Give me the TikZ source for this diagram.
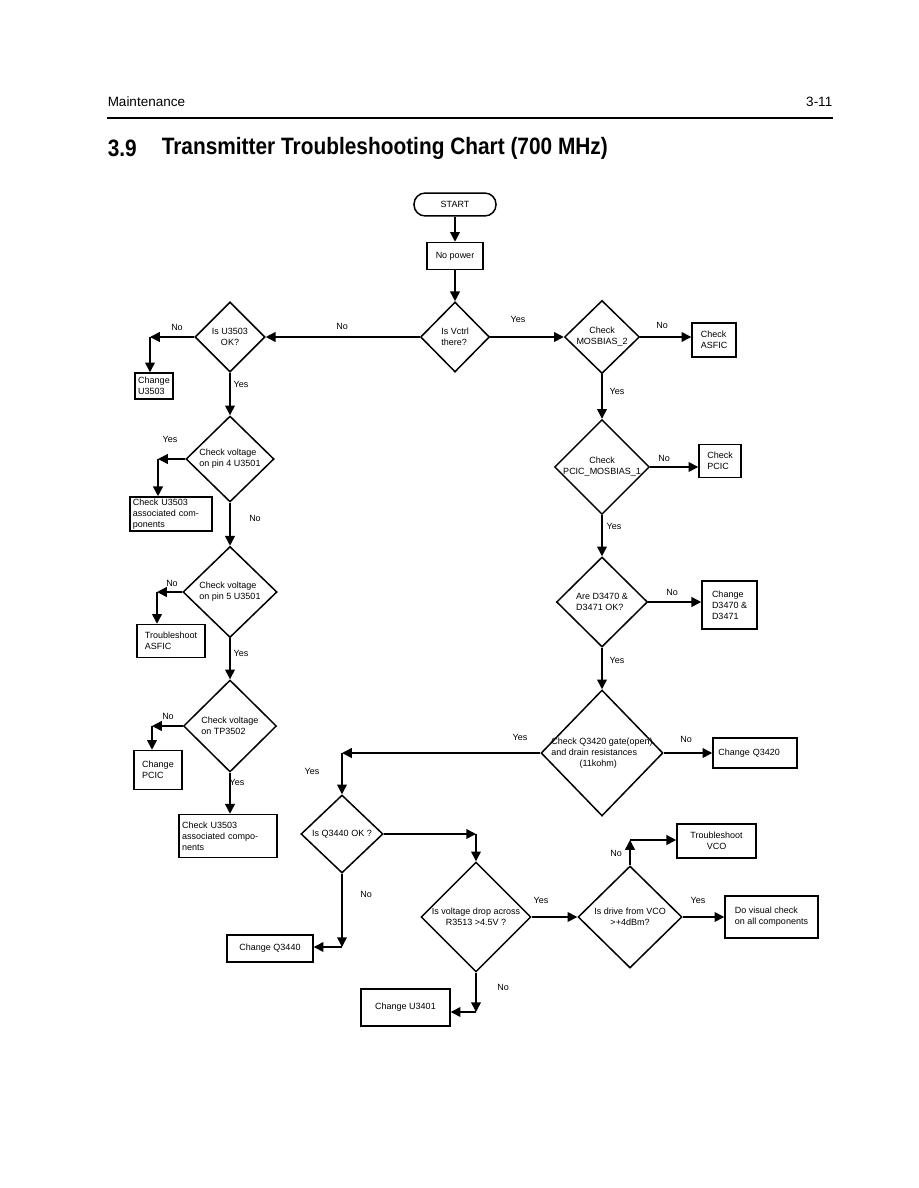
\documentclass[tikz,border=0pt]{standalone}
\usepackage{fontspec}
\setmainfont{Liberation Sans}
\newfontfamily\titlefont[FakeStretch=0.88]{Liberation Sans}
\usetikzlibrary{shapes.geometric, arrows.meta}

\tikzset{
  chart/.style={font=\fontsize{6}{7.4}\selectfont},
  box/.style={chart, draw, rectangle, align=left, inner sep=0pt},
  decision/.style={draw, diamond, inner sep=0pt},
  dtext/.style={chart, align=left, inner sep=0pt},
  answer/.style={chart, inner sep=0pt},
}

\begin{document}
\begin{tikzpicture}[x=0.6667pt, y=-0.6667pt, line width=1pt, >={Triangle[length=6.5pt,width=6.5pt]}]
    \useasboundingbox (0,0) rectangle (918,1188);

    % 1. Page header and title
    \node[anchor=west, inner sep=0pt, font=\fontsize{9}{11}\selectfont] (hdleft) at (107,102) {Maintenance};
    \node[anchor=east, inner sep=0pt, font=\fontsize{9}{11}\selectfont] (hdright) at (833,102) {3-11};
    \draw[line width=1.4pt] (107,118) -- (833,118);
    \node[anchor=west, inner sep=0pt, font=\titlefont\bfseries\fontsize{15.8}{18}\selectfont] (secno) at (107,148) {3.9};
    \node[anchor=west, inner sep=0pt, font=\titlefont\bfseries\fontsize{15.8}{18}\selectfont] (title) at (161,148) {Transmitter Troubleshooting Chart (700 MHz)};

    % 2. Start and centre column
    \node[box, rounded corners=7.5pt, minimum width=54.7pt, minimum height=15.3pt] (start) at (455,204.5) {START};
    \node[box, minimum width=37.3pt, minimum height=18pt] (nopower) at (455,256) {No power};
    \node[decision, minimum width=46pt, minimum height=46.7pt] (vctrl) at (455,337) {};
    \node[dtext] (vctrl-t) at (vctrl) {Is Vctrl\\there?};

    % 3. Left column
    \node[decision, minimum width=46.7pt, minimum height=46.7pt] (u3503) at (230,337) {};
    \node[dtext, align=center] (u3503-t) at (u3503) {Is U3503\\OK?};
    \node[box, minimum width=25.3pt, minimum height=17.3pt] (chu3503) at (154,386) {Change\\U3503};

    \node[decision, minimum width=58.7pt, minimum height=57.3pt] (pin4) at (230,459) {};
    \node[dtext] (pin4-t) at (pin4) {Check voltage\\on pin 4 U3501};
    \node[box, text width=50.7pt, minimum width=54.7pt, minimum height=22.7pt] (chk1) at (171,514) {Check U3503\\associated com-\\ponents};

    \node[decision, minimum width=62.7pt, minimum height=60.7pt] (pin5) at (230,592) {};
    \node[dtext] (pin5-t) at (pin5) {Check voltage\\on pin 5 U3501};
    \node[box, minimum width=45.3pt, minimum height=22pt] (tsasfic) at (171,641) {Troubleshoot\\ASFIC};

    \node[decision, minimum width=62pt, minimum height=61.3pt] (tp3502) at (230,726) {};
    \node[dtext] (tp3502-t) at (tp3502) {Check voltage\\on TP3502};
    \node[box, minimum width=32pt, minimum height=26pt] (chpcic) at (158,770) {Change\\PCIC};
    \node[box, text width=61.3pt, minimum width=65.3pt, minimum height=28.7pt] (chk2) at (228,836) {Check U3503\\associated compo-\\nents};

    % 4. Right column
    \node[decision, minimum width=50pt, minimum height=48.7pt] (mos2) at (602,337) {};
    \node[dtext, align=center] (mos2-t) at (mos2) {Check\\MOSBIAS\_2};
    \node[box, minimum width=29.3pt, minimum height=22.7pt] (asfic) at (714,340) {Check\\ASFIC};

    \node[decision, minimum width=63.3pt, minimum height=63.3pt] (mos1) at (602,467) {};
    \node[dtext, align=center] (mos1-t) at (mos1) {Check\\PCIC\_MOSBIAS\_1};
    \node[box, minimum width=28pt, minimum height=22pt] (pcic) at (720,461) {Check\\PCIC};

    \node[decision, minimum width=60.7pt, minimum height=60pt] (d3470) at (602,602) {};
    \node[dtext] (d3470-t) at (d3470) {Are D3470 \&\\D3471 OK?};
    \node[box, minimum width=36.7pt, minimum height=32pt] (chd) at (729.5,605) {Change\\D3470 \&\\D3471};

    \node[decision, minimum width=81.3pt, minimum height=84pt] (q3420) at (602,753) {};
    \node[dtext] (q3420-t) at (q3420) {Check Q3420 gate(open)\\and drain resistances\\\hspace*{18.7pt}(11kohm)};
    \node[box, text width=49pt, minimum width=56pt, minimum height=20pt] (chq3420) at (755,753) {Change Q3420};

    % 5. Bottom part
    \node[decision, minimum width=54.7pt, minimum height=52pt] (q3440) at (342,834) {};
    \node[dtext] (q3440-t) at (q3440) {Is Q3440 OK ?};
    \node[box, minimum width=57.3pt, minimum height=18pt] (chq3440) at (270,948.5) {Change Q3440};

    \node[decision, minimum width=73.3pt, minimum height=73.3pt] (r3513) at (476,917) {};
    \node[dtext, align=center] (r3513-t) at (r3513) {Is voltage drop across\\R3513 >4.5V ?};
    \node[box, minimum width=59.3pt, minimum height=24.7pt] (chu3401) at (405.5,1007.5) {Change U3401};

    \node[decision, minimum width=69.3pt, minimum height=68pt] (vco) at (630,917) {};
    \node[dtext, align=center] (vco-t) at (vco) {Is drive from VCO\\>+4dBm?};
    \node[box, align=center, minimum width=52.7pt, minimum height=22.7pt] (tvco) at (716.5,841) {Troubleshoot\\VCO};
    \node[box, minimum width=62pt, minimum height=28pt] (visual) at (771.5,917) {Do visual check\\on all components};

    % 6. Corners of the bent connectors
    \coordinate (cu) at (150,337);
    \coordinate (cp4) at (158,459);
    \coordinate (cp5) at (157,592);
    \coordinate (ctp) at (152,726);
    \coordinate (cq) at (342,753);
    \coordinate (cr) at (476,834);
    \coordinate (cn) at (342,947);
    \coordinate (cb) at (476,1012);
    \coordinate (cv) at (630,840);

    % 7. Connectors
    \draw[->] (start) -- (nopower);
    \draw[->] (nopower) -- (vctrl);
    \draw[->] (vctrl.east) -- (mos2.west);
    \draw[->] (vctrl.west) -- (u3503.east);

    \draw[->] (u3503.west) -- (cu);
    \draw[->] (cu) -- (cu |- chu3503.north);
    \draw[->] (u3503.south) -- (pin4.north);
    \draw[->] (pin4.west) -- (cp4);
    \draw[->] (cp4) -- (cp4 |- chk1.north);
    \draw[->] (pin4.south) -- (pin5.north);
    \draw[->] (pin5.west) -- (cp5);
    \draw[->] (cp5) -- (cp5 |- tsasfic.north);
    \draw[->] (pin5.south) -- (tp3502.north);
    \draw[->] (tp3502.west) -- (ctp);
    \draw[->] (ctp) -- (ctp |- chpcic.north);
    \draw[->] (tp3502.south) -- (tp3502.south |- chk2.north);

    \draw[->] (mos2.east) -- (mos2.east -| asfic.west);
    \draw[->] (mos2.south) -- (mos1.north);
    \draw[->] (mos1.east) -- (mos1.east -| pcic.west);
    \draw[->] (mos1.south) -- (d3470.north);
    \draw[->] (d3470.east) -- (d3470.east -| chd.west);
    \draw[->] (d3470.south) -- (q3420.north);
    \draw[->] (q3420.east) -- (chq3420.west);
    \draw[->] (q3420.west) -- (cq);
    \draw[->] (cq) -- (q3440.north);

    \draw[->] (q3440.east) -- (cr);
    \draw[->] (cr) -- (r3513.north);
    \draw[->] (q3440.south) -- (cn);
    \draw[->] (cn) -- (cn -| chq3440.east);
    \draw[->] (r3513.east) -- (vco.west);
    \draw[->] (r3513.south) -- (cb);
    \draw[->] (cb) -- (cb -| chu3401.east);
    \draw[->] (vco.north) -- (cv);
    \draw[->] (cv) -- (cv -| tvco.west);
    \draw[->] (vco.east) -- (visual.west);

    % 8. Yes / No labels
    \node[answer] (a1) at (518,319) {Yes};
    \node[answer] (a2) at (342,326) {No};
    \node[answer] (a3) at (177,327) {No};
    \node[answer] (a4) at (241,384) {Yes};
    \node[answer] (a5) at (662,325) {No};
    \node[answer] (a6) at (617,391) {Yes};
    \node[answer] (a7) at (170,439) {Yes};
    \node[answer] (a8) at (255,518) {No};
    \node[answer] (a9) at (664,458) {No};
    \node[answer] (a10) at (614,526) {Yes};
    \node[answer] (a11) at (172,583) {No};
    \node[answer] (a12) at (241,653) {Yes};
    \node[answer] (a13) at (672,592) {No};
    \node[answer] (a14) at (617,660) {Yes};
    \node[answer] (a15) at (168,716) {No};
    \node[answer] (a16) at (237,782) {Yes};
    \node[answer] (a17) at (520,737) {Yes};
    \node[answer] (a18) at (686,739) {No};
    \node[answer] (a19) at (312,771) {Yes};
    \node[answer] (a20) at (366,894) {No};
    \node[answer] (a21) at (541,900) {Yes};
    \node[answer] (a22) at (616,853) {No};
    \node[answer] (a23) at (698,900) {Yes};
    \node[answer] (a24) at (503,987) {No};
\end{tikzpicture}
\end{document}
